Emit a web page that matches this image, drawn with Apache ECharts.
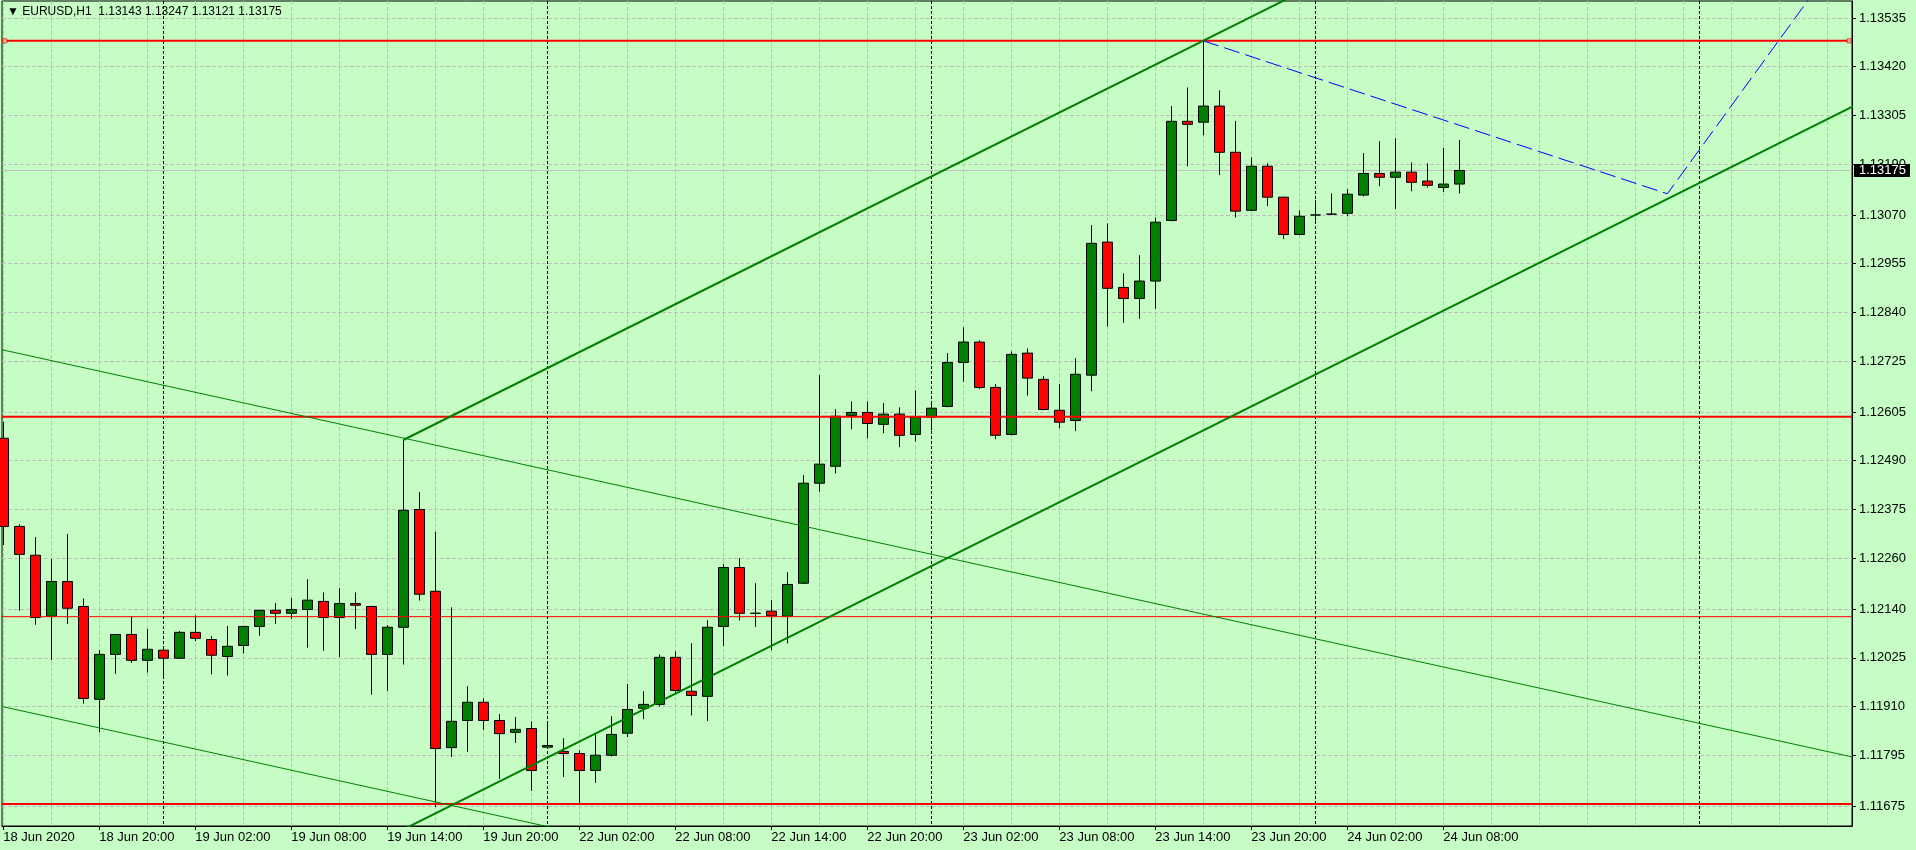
<!DOCTYPE html>
<html>
<head>
<meta charset="utf-8">
<title>EURUSD,H1</title>
<script src="https://cdn.jsdelivr.net/npm/echarts@6/dist/echarts.min.js"></script>
<style>
  html, body { margin: 0; padding: 0; background: #c5fdc5; }
  #chart { width: 1916px; height: 850px; }
</style>
</head>
<body>
<div id="chart"></div>
<script>
// EURUSD H1 bars, 18 Jun 14:00 .. 24 Jun 09:00 (bar index = position on x)
const opens = [
  1.12543, 1.12335, 1.12267, 1.12123, 1.12205, 1.12146, 1.11927, 1.12033, 1.12080, 1.12019,
  1.12043, 1.12024, 1.12085, 1.12068, 1.12028, 1.12054, 1.12099, 1.12137, 1.12130, 1.12139,
  1.12158, 1.12120, 1.12153, 1.12146, 1.12033, 1.12097, 1.12375, 1.12182, 1.11813, 1.11877,
  1.11920, 1.11877, 1.11849, 1.11858, 1.11814, 1.11804, 1.11799, 1.11759, 1.11795, 1.11847,
  1.11906, 1.11915, 1.12026, 1.11946, 1.11934, 1.12099, 1.12238, 1.12130, 1.12135, 1.12123,
  1.12201, 1.12437, 1.12477, 1.12597, 1.12604, 1.12576, 1.12600, 1.12552, 1.12593, 1.12618,
  1.12722, 1.12770, 1.12663, 1.12552, 1.12744, 1.12682, 1.12609, 1.12585, 1.12692, 1.13006,
  1.12899, 1.12873, 1.12914, 1.13057, 1.13291, 1.13289, 1.13327, 1.13218, 1.13081, 1.13185,
  1.13112, 1.13024, 1.13070, 1.13072, 1.13074, 1.13117, 1.13168, 1.13159, 1.13171, 1.13150,
  1.13135, 1.13143
];
const highs = [
  1.12582, 1.12340, 1.12310, 1.12258, 1.12317, 1.12165, 1.12043, 1.12081, 1.12123, 1.12093,
  1.12045, 1.12088, 1.12125, 1.12076, 1.12100, 1.12100, 1.12138, 1.12154, 1.12166, 1.12210,
  1.12179, 1.12189, 1.12179, 1.12148, 1.12102, 1.12539, 1.12416, 1.12322, 1.12144, 1.11958,
  1.11929, 1.11892, 1.11885, 1.11875, 1.11873, 1.11835, 1.11807, 1.11844, 1.11887, 1.11963,
  1.11946, 1.12033, 1.12040, 1.12059, 1.12114, 1.12246, 1.12260, 1.12201, 1.12161, 1.12227,
  1.12456, 1.12692, 1.12611, 1.12630, 1.12630, 1.12626, 1.12616, 1.12656, 1.12626, 1.12744,
  1.12805, 1.12774, 1.12671, 1.12748, 1.12755, 1.12689, 1.12671, 1.12732, 1.13046, 1.13050,
  1.12932, 1.12975, 1.13064, 1.13327, 1.13371, 1.13481, 1.13364, 1.13292, 1.13206, 1.13192,
  1.13113, 1.13081, 1.13105, 1.13121, 1.13131, 1.13216, 1.13244, 1.13251, 1.13194, 1.13192,
  1.13228, 1.13247
];
const lows = [
  1.12291, 1.12136, 1.12103, 1.12020, 1.12105, 1.11917, 1.11849, 1.11987, 1.12013, 1.11990,
  1.11980, 1.12022, 1.12064, 1.11986, 1.11983, 1.12035, 1.12077, 1.12105, 1.12117, 1.12049,
  1.12042, 1.12027, 1.12093, 1.11938, 1.11947, 1.12009, 1.12160, 1.11673, 1.11791, 1.11803,
  1.11855, 1.11739, 1.11824, 1.11711, 1.11813, 1.11744, 1.11678, 1.11730, 1.11792, 1.11838,
  1.11880, 1.11910, 1.11943, 1.11889, 1.11876, 1.12053, 1.12113, 1.12098, 1.12043, 1.12059,
  1.12199, 1.12417, 1.12460, 1.12564, 1.12543, 1.12555, 1.12522, 1.12536, 1.12562, 1.12616,
  1.12677, 1.12659, 1.12541, 1.12550, 1.12644, 1.12609, 1.12567, 1.12560, 1.12654, 1.12807,
  1.12816, 1.12825, 1.12849, 1.13055, 1.13185, 1.13258, 1.13164, 1.13064, 1.13080, 1.13091,
  1.13013, 1.13022, 1.13057, 1.13070, 1.13067, 1.13114, 1.13138, 1.13084, 1.13126, 1.13135,
  1.13124, 1.13121
];
const closes = [
  1.12335, 1.12269, 1.12120, 1.12205, 1.12142, 1.11929, 1.12033, 1.12080, 1.12019, 1.12045,
  1.12024, 1.12085, 1.12071, 1.12031, 1.12052, 1.12099, 1.12137, 1.12130, 1.12139, 1.12161,
  1.12120, 1.12153, 1.12149, 1.12033, 1.12097, 1.12373, 1.12175, 1.11811, 1.11875, 1.11920,
  1.11877, 1.11846, 1.11856, 1.11759, 1.11818, 1.11799, 1.11759, 1.11795, 1.11844, 1.11903,
  1.11915, 1.12026, 1.11948, 1.11936, 1.12097, 1.12238, 1.12130, 1.12130, 1.12124, 1.12198,
  1.12437, 1.12482, 1.12595, 1.12604, 1.12578, 1.12600, 1.12550, 1.12593, 1.12614, 1.12722,
  1.12770, 1.12663, 1.12550, 1.12741, 1.12685, 1.12611, 1.12581, 1.12694, 1.13003, 1.12897,
  1.12873, 1.12914, 1.13053, 1.13291, 1.13284, 1.13327, 1.13218, 1.13079, 1.13185, 1.13112,
  1.13024, 1.13067, 1.13070, 1.13072, 1.13119, 1.13168, 1.13159, 1.13171, 1.13147, 1.13140,
  1.13143, 1.13175
];

// time axis labels (every 6 bars)
const xLabelBars = [0, 6, 12, 18, 24, 30, 36, 42, 48, 54, 60, 66, 72, 78, 84, 90];
const xLabels = [
  "18 Jun 2020", "18 Jun 20:00", "19 Jun 02:00", "19 Jun 08:00", "19 Jun 14:00", "19 Jun 20:00",
  "22 Jun 02:00", "22 Jun 08:00", "22 Jun 14:00", "22 Jun 20:00", "23 Jun 02:00", "23 Jun 08:00",
  "23 Jun 14:00", "23 Jun 20:00", "24 Jun 02:00", "24 Jun 08:00"
];
const daySeparators = [10, 34, 58, 82, 106];

// price scale labels
const yTicks = [
  1.11675, 1.11795, 1.11910, 1.12025, 1.12140, 1.12260, 1.12375, 1.12490, 1.12605,
  1.12725, 1.12840, 1.12955, 1.13070, 1.13190, 1.13305, 1.13420, 1.13535
];

// drawn objects (bar index, price)
const levels = [1.13481, 1.12594, 1.12122, 1.11680];
const levelWidths = [2, 2, 1, 2];
const channelTop = [[25, 1.12539], [116, 1.14254]];
const channelBottom = [[25, 1.11620], [116, 1.13334]];
const thinTop = [[-0.08, 1.12752], [115.54, 1.11791]];
const thinBottom = [[-0.08, 1.11910], [115.54, 1.10949]];
const projection = [[75, 1.13481], [104, 1.13120], [113.2, 1.13598]];
const selectedHandles = [[0.1, 1.13481], [115.36, 1.13481]];

const X_MIN = -0.08, X_MAX = 115.54;
const Y_MIN = 1.11628, Y_MAX = 1.13575;
const BG = "#c5fdc5";
const FONT = "Liberation Sans, Arial, sans-serif";

const gridBars = [];
for (let b = 0; b <= 115; b += 3) gridBars.push(b);

const last = opens.length - 1;
const header = "▼ EURUSD,H1  " + [opens[last], highs[last], lows[last], closes[last]]
  .map(v => v.toFixed(5)).join(" ");

function line(data, color, width, type, z) {
  return {
    type: "line",
    data: data,
    symbol: "none",
    silent: true,
    animation: false,
    z: z || 3,
    lineStyle: { color: color, width: width, type: type || "solid" }
  };
}

const chart = echarts.init(document.getElementById("chart"));

const series = [
  {
    type: "candlestick",
    barWidth: 10,
    z: 2,
    animation: false,
    data: opens.map((o, i) => [i, o, closes[i], lows[i], highs[i]]),
    itemStyle: {
      color: "#008000",
      color0: "#ff0000",
      borderColor: "#000",
      borderColor0: "#000",
      borderColorDoji: "#000",
      borderWidth: 1
    }
  }
];

// bid line with its price tag on the scale
const bidLine = line([[X_MIN, closes[last]], [X_MAX, closes[last]]], "#c0c0c0", 1, "solid", 2);
bidLine.endLabel = {
  show: true,
  distance: 2,
  formatter: () => closes[last].toFixed(5),
  backgroundColor: "#000",
  color: "#fff",
  fontFamily: FONT,
  fontSize: 13,
  lineHeight: 13,
  padding: [0, 4, 0, 5]
};
series.push(bidLine);

levels.forEach((lvl, i) => {
  series.push(line([[X_MIN, lvl], [X_MAX, lvl]], "#ff0000", levelWidths[i], "solid", 3));
});
series.push(line(channelTop, "#008000", 2));
series.push(line(channelBottom, "#008000", 2));
series.push(line(thinTop, "#008000", 1));
series.push(line(thinBottom, "#008000", 1));
series.push(line(projection, "#0000ff", 1, [16, 6]));
series.push({
  type: "scatter",
  data: selectedHandles,
  symbol: "rect",
  symbolSize: 4,
  silent: true,
  animation: false,
  z: 4,
  itemStyle: { color: BG, borderColor: "#ff0000", borderWidth: 1 }
});

const hiddenX = (values, color, dash) => ({
  type: "value",
  min: X_MIN,
  max: X_MAX,
  position: "bottom",
  axisLine: { show: false },
  axisTick: { show: false, customValues: values },
  axisLabel: { show: false },
  splitLine: { show: true, customValues: values, lineStyle: { color: color, width: 1, type: dash } }
});

chart.setOption({
  backgroundColor: BG,
  animation: false,
  title: {
    text: header,
    left: 7,
    top: 6,
    padding: 0,
    textStyle: { fontSize: 12, fontWeight: "normal", color: "#000", fontFamily: FONT }
  },
  grid: {
    left: 2,
    right: 64,
    top: 1,
    bottom: 24,
    show: true,
    backgroundColor: BG,
    borderColor: "#000",
    borderWidth: 1
  },
  xAxis: [
    {
      type: "value",
      min: X_MIN,
      max: X_MAX,
      position: "bottom",
      axisLine: { show: true, onZero: false, lineStyle: { color: "#000", width: 1 } },
      axisTick: { show: true, customValues: xLabelBars, length: 4, lineStyle: { color: "#000" } },
      axisLabel: {
        customValues: xLabelBars,
        formatter: v => xLabels[xLabelBars.indexOf(Math.round(v))],
        align: "left",
        margin: 5,
        color: "#000",
        fontSize: 13,
        fontFamily: FONT
      },
      splitLine: { show: false }
    },
    hiddenX(gridBars, "#c0c0c0", [4, 2]),
    hiddenX(daySeparators, "#000", [3, 2])
  ],
  yAxis: {
    type: "value",
    position: "right",
    min: Y_MIN,
    max: Y_MAX,
    axisLine: { show: true, onZero: false, lineStyle: { color: "#000", width: 1 } },
    axisTick: { show: true, customValues: yTicks, length: 4, lineStyle: { color: "#000" } },
    axisLabel: {
      customValues: yTicks,
      formatter: v => v.toFixed(5),
      margin: 7,
      color: "#000",
      fontSize: 13,
      fontFamily: FONT
    },
    splitLine: { show: true, customValues: yTicks, lineStyle: { color: "#c0c0c0", width: 1, type: [4, 2] } }
  },
  series: series
});
</script>
</body>
</html>
